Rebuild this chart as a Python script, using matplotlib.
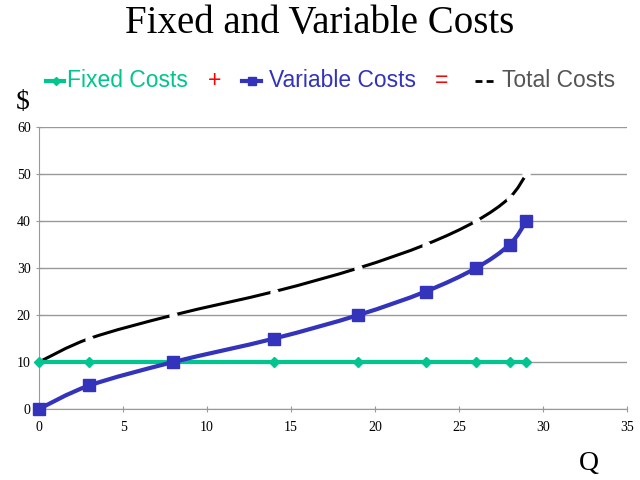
import numpy as np
import matplotlib
matplotlib.use("Agg")
from matplotlib import pyplot as plt
from matplotlib.path import Path
from matplotlib.patches import PathPatch
from matplotlib.lines import Line2D

q = [0, 3, 8, 14, 19, 23, 26, 28, 29]
fixed = [10, 10, 10, 10, 10, 10, 10, 10, 10]
variable = [0, 5, 10, 15, 20, 25, 30, 35, 40]
total = [10, 15, 20, 25, 30, 35, 40, 45, 50]

green = "#00c58e"
blue = "#3333bb"
serif = ["Liberation Serif", "DejaVu Serif"]
sans = ["Liberation Sans", "DejaVu Sans"]


def smooth_path(x, y):
    # Excel-style smoothed line: Catmull-Rom turned into cubic Bezier segments
    x = np.asarray(x, float)
    y = np.asarray(y, float)
    verts = [(x[0], y[0])]
    codes = [Path.MOVETO]
    n = len(x)
    for i in range(n - 1):
        i0 = max(i - 1, 0)
        i3 = min(i + 2, n - 1)
        c1 = (x[i] + (x[i + 1] - x[i0]) / 6, y[i] + (y[i + 1] - y[i0]) / 6)
        c2 = (x[i + 1] - (x[i3] - x[i]) / 6, y[i + 1] - (y[i3] - y[i]) / 6)
        verts += [c1, c2, (x[i + 1], y[i + 1])]
        codes += [Path.CURVE4] * 3
    return Path(verts, codes)


fig = plt.figure(figsize=(6.4, 4.8), dpi=100)
ax = fig.add_axes([0.061, 0.148, 0.919, 0.587])

ax.set_xlim(0, 35)
ax.set_ylim(0, 60)
ax.set_xticks(range(0, 36, 5))
ax.set_yticks(range(0, 61, 10))
ax.yaxis.grid(True, color="#999999", linewidth=1)
ax.set_axisbelow(True)
for s in ["top", "right"]:
    ax.spines[s].set_visible(False)
for s in ["left", "bottom"]:
    ax.spines[s].set_color("#999999")
ax.tick_params(direction="inout", length=5, color="#999999", labelsize=10)
for lab in ax.get_xticklabels() + ax.get_yticklabels():
    lab.set_family(serif)
ax.tick_params(axis="x", pad=6)

# total costs: black smoothed line broken by white markers
ax.add_patch(PathPatch(smooth_path(q, total), facecolor="none", edgecolor="black", lw=2.2, zorder=3))
ax.plot(q, total, ls="none", marker="o", ms=5, mfc="white", mec="white", zorder=4, clip_on=False)

# fixed costs
ax.plot(q, fixed, color=green, lw=3, marker="D", ms=5, zorder=5, clip_on=False)

# variable costs
ax.add_patch(PathPatch(smooth_path(q, variable), facecolor="none", edgecolor=blue, lw=3, zorder=6))
ax.plot(q, variable, ls="none", marker="s", ms=9, color=blue, zorder=7, clip_on=False)

fig.text(0.5, 0.952, "Fixed and Variable Costs", ha="center", va="center", fontsize=28, family=serif)
fig.text(0.035, 0.786, "$", ha="center", va="center", fontsize=20, family=serif)
fig.text(0.92, 0.035, "Q", ha="center", va="center", fontsize=20, family=serif)

# legend row
ly = 0.832
fig.add_artist(Line2D([0.072, 0.087, 0.1], [ly, ly, ly], color=green, lw=3, marker="D", ms=4, markevery=[1]))
fig.text(0.105, ly, "Fixed Costs", color=green, fontsize=16.5, family=sans, va="center")
fig.text(0.325, ly, "+", color="red", fontsize=16.5, family=sans, va="center")
fig.add_artist(Line2D([0.378, 0.393, 0.408], [ly, ly, ly], color=blue, lw=3, marker="s", ms=6, markevery=[1]))
fig.text(0.42, ly, "Variable Costs", color=blue, fontsize=16.5, family=sans, va="center")
fig.text(0.68, ly, "=", color="red", fontsize=16.5, family=sans, va="center")
fig.add_artist(Line2D([0.742, 0.775], [ly, ly], color="black", lw=2, ls=(0, (2.5, 1.5))))
fig.text(0.785, ly, "Total Costs", color="#555555", fontsize=16.5, family=sans, va="center")

fig.savefig("out.png", dpi=100)
